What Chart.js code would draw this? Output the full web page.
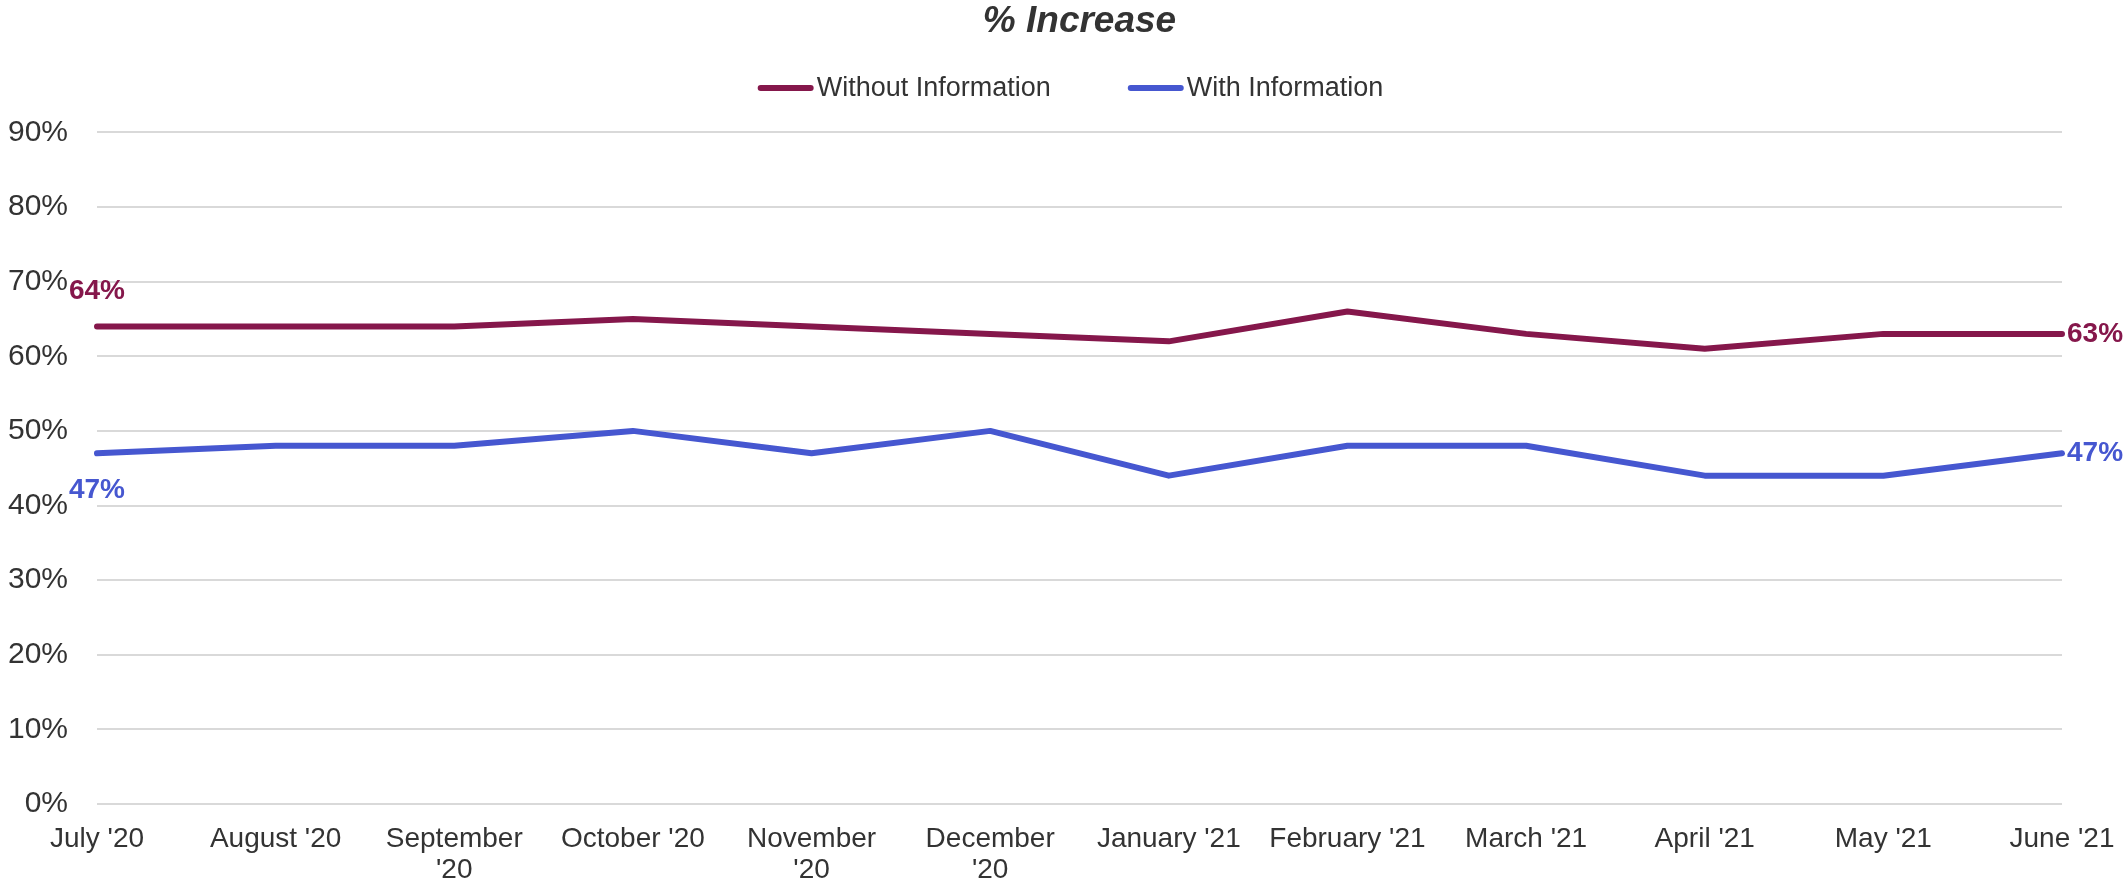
<!DOCTYPE html>
<html>
<head>
<meta charset="utf-8">
<title>% Increase</title>
<script src="https://cdn.jsdelivr.net/npm/chart.js@4"></script>
<style>
  html, body { margin: 0; padding: 0; background: #ffffff; }
  canvas { display: block; }
</style>
</head>
<body>
<canvas id="trendChart" width="2124" height="883"></canvas>
<script>
// Monthly categories (multi-line where the axis wraps them)
const months = [
    "July '20", "August '20", ["September", "'20"], "October '20",
    ["November", "'20"], ["December", "'20"], "January '21", "February '21",
    "March '21", "April '21", "May '21", "June '21"
];

// Percent values per month
const withoutInfo = [64, 64, 64, 65, 64, 63, 62, 66, 63, 61, 63, 63];
const withInfo = [47, 48, 48, 50, 47, 50, 44, 48, 48, 44, 44, 47];

const yTicks = { min: 0, max: 90, step: 10 };

const fontFamily = "'Liberation Sans', Arial, Helvetica, sans-serif";
const textColor = '#333333';
const maroon = '#85174B';
const blue = '#4657D0';
const gridColor = '#d9d9d9';

// Line-sample legend drawn under the title
const lineLegend = {
    id: 'lineLegend',
    afterDraw(chart, args, opts) {
        const ctx = chart.ctx;
        const sets = chart.data.datasets;
        ctx.save();
        ctx.font = opts.size + 'px ' + fontFamily;
        ctx.textBaseline = 'middle';
        ctx.textAlign = 'left';

        const widths = sets.map(ds => opts.lineWidth + opts.gap + ctx.measureText(ds.label).width);
        const total = widths.reduce((a, b) => a + b, 0) + opts.spacing * (sets.length - 1);
        let x = (chart.chartArea.left + chart.chartArea.right) / 2 - opts.shift - total / 2;

        sets.forEach((ds, i) => {
            ctx.strokeStyle = ds.borderColor;
            ctx.lineWidth = 6;
            ctx.lineCap = 'round';
            ctx.beginPath();
            ctx.moveTo(x + 3, opts.y);
            ctx.lineTo(x + opts.lineWidth - 3, opts.y);
            ctx.stroke();
            ctx.fillStyle = textColor;
            ctx.fillText(ds.label, x + opts.lineWidth + opts.gap, opts.y + 1);
            x += widths[i] + opts.spacing;
        });
        ctx.restore();
    }
};

// Value labels at the first and last point of each series
const endLabels = {
    id: 'endLabels',
    afterDatasetsDraw(chart, args, opts) {
        const ctx = chart.ctx;
        ctx.save();
        ctx.font = 'bold ' + opts.size + 'px ' + fontFamily;
        chart.data.datasets.forEach((ds, i) => {
            const pts = chart.getDatasetMeta(i).data;
            const first = pts[0];
            const last = pts[pts.length - 1];
            ctx.fillStyle = ds.borderColor;

            // first point: centred above or below the line
            ctx.textAlign = 'center';
            ctx.textBaseline = 'middle';
            ctx.fillText(ds.data[0] + '%', first.x, first.y + opts.firstDy[i]);

            // last point: to the right of the line end
            ctx.textAlign = 'left';
            ctx.fillText(ds.data[ds.data.length - 1] + '%', last.x + 5, last.y);
        });
        ctx.restore();
    }
};

const config = {
    type: 'line',
    data: {
        labels: months,
        datasets: [{
            label: 'Without Information',
            data: withoutInfo,
            borderColor: maroon,
            backgroundColor: maroon
        }, {
            label: 'With Information',
            data: withInfo,
            borderColor: blue,
            backgroundColor: blue
        }]
    },
    options: {
        responsive: false,
        devicePixelRatio: 1,
        animation: false,
        layout: {
            padding: { left: 8, right: 62, top: 0, bottom: 0 }
        },
        elements: {
            line: {
                borderWidth: 6,
                tension: 0,
                borderCapStyle: 'round',
                borderJoinStyle: 'round'
            },
            point: { radius: 0, hoverRadius: 0 }
        },
        plugins: {
            legend: { display: false },
            tooltip: { enabled: false },
            title: {
                display: true,
                text: '% Increase',
                fullSize: false,
                color: textColor,
                font: { family: fontFamily, size: 37, weight: 'bold', style: 'italic', lineHeight: 1.2 },
                padding: { top: 0, bottom: 88 }
            },
            lineLegend: { y: 88, size: 27, lineWidth: 56, gap: 3, spacing: 77, shift: 9 },
            endLabels: { size: 28, firstDy: [-35, 37] }
        },
        scales: {
            x: {
                offset: false,
                grid: { display: false, drawTicks: false },
                border: { display: false },
                afterFit: scale => {
                    // labels may hang past the plot edges; layout padding covers them
                    scale.height = 79;
                    scale.paddingLeft = 0;
                    scale.paddingRight = 0;
                },
                ticks: {
                    autoSkip: false,
                    maxRotation: 0,
                    minRotation: 0,
                    padding: 20,
                    color: textColor,
                    font: { family: fontFamily, size: 28, lineHeight: 1.1 }
                }
            },
            y: {
                min: yTicks.min,
                max: yTicks.max,
                border: { display: false },
                grid: { color: gridColor, lineWidth: 2, drawTicks: false },
                afterFit: scale => { scale.width = 89; },
                ticks: {
                    stepSize: yTicks.step,
                    padding: 29,
                    color: textColor,
                    font: { family: fontFamily, size: 30 },
                    callback: value => value + '%'
                }
            }
        }
    },
    plugins: [lineLegend, endLabels]
};

new Chart(document.getElementById('trendChart'), config);
</script>
</body>
</html>
